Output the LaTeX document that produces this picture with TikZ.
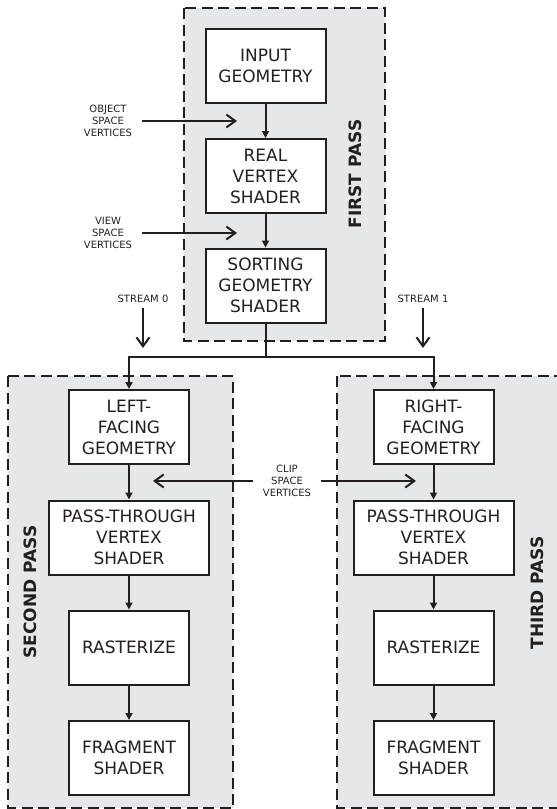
\documentclass[tikz,border=0pt]{standalone}
\usepackage{fontspec}
\setmainfont{DejaVu Sans}
\usetikzlibrary{arrows.meta, positioning}
\definecolor{ink}{HTML}{231F20}
\definecolor{passfill}{HTML}{E6E7E8}
\tikzset{
    stage/.style={draw=ink, rectangle, fill=white, line width=2pt, minimum width=120pt, minimum height=74pt, inner sep=2pt, align=center, text=ink, font=\fontsize{17}{21}\selectfont},
    widestage/.style={stage, minimum width=160pt},
    passregion/.style={draw=ink, fill=passfill, line width=2pt, dash pattern=on 11pt off 5.5pt},
    passlabel/.style={rotate=90, text=ink, font=\fontsize{17}{20}\selectfont\bfseries},
    sidelabel/.style={align=center, text=ink, inner xsep=10pt, inner ysep=0pt, font=\fontsize{10}{11.8}\selectfont},
    flow/.style={draw=ink, line width=2pt, -{Triangle[length=7pt,width=7pt]}},
    feed/.style={draw=ink, line width=2pt, -{Straight Barb[length=9pt,width=13pt]}},
    link/.style={draw=ink, line width=2pt}
}

\begin{document}
\begin{tikzpicture}[x=1pt, y=1pt]
        \useasboundingbox (0,0) rectangle (557,-809);
        \clip (0,0) rectangle (557,-809);

        % -----------------------------------------------------------------
        % PASS REGIONS
        % -----------------------------------------------------------------
        \draw[passregion] (184,-8) rectangle (385,-341);
        \draw[passregion] (8,-376) rectangle (233,-808);
        \draw[passregion] (337,-376) rectangle (580,-808);

        \node[passlabel] (firstlbl) at (355,-174) {FIRST PASS};
        \node[passlabel] (secondlbl) at (30,-592) {SECOND PASS};
        \node[passlabel] (thirdlbl) at (537,-593) {THIRD PASS};

        % -----------------------------------------------------------------
        % FIRST PASS
        % -----------------------------------------------------------------
        \node[stage] (input) at (265.5,-65.5) {INPUT\\GEOMETRY};
        \node[stage] (real) at (265.5,-176) {REAL\\VERTEX\\SHADER};
        \node[stage] (sorting) at (265.5,-285.5) {SORTING\\GEOMETRY\\SHADER};

        \draw[flow] (input) -- (real);
        \draw[flow] (real) -- (sorting);

        \node[sidelabel] (objlbl) at (108,-121) {OBJECT\\SPACE\\VERTICES};
        \coordinate (objtip) at (237,-121);
        \draw[feed] (objlbl) -- (objtip);

        \node[sidelabel] (viewlbl) at (108,-233) {VIEW\\SPACE\\VERTICES};
        \coordinate (viewtip) at (237,-233);
        \draw[feed] (viewlbl) -- (viewtip);

        % -----------------------------------------------------------------
        % STREAMS
        % -----------------------------------------------------------------
        \node[sidelabel, inner ysep=5pt] (s0lbl) at (143,-299) {STREAM 0};
        \coordinate (s0tip) at (143,-348);
        \draw[feed] (s0lbl) -- (s0tip);

        \node[sidelabel, inner ysep=5pt] (s1lbl) at (423,-299) {STREAM 1};
        \coordinate (s1tip) at (423,-348);
        \draw[feed] (s1lbl) -- (s1tip);

        % -----------------------------------------------------------------
        % SECOND PASS
        % -----------------------------------------------------------------
        \node[stage] (lface) at (129,-427) {LEFT-\\FACING\\GEOMETRY};
        \node[widestage] (lpass) at (129,-537.5) {PASS-THROUGH\\VERTEX\\SHADER};
        \node[stage] (lrast) at (129,-647.5) {RASTERIZE};
        \node[stage] (lfrag) at (129,-758) {FRAGMENT\\SHADER};

        \draw[flow] (lface) -- (lpass);
        \draw[flow] (lpass) -- (lrast);
        \draw[flow] (lrast) -- (lfrag);

        % -----------------------------------------------------------------
        % THIRD PASS
        % -----------------------------------------------------------------
        \node[stage] (rface) at (433.5,-427) {RIGHT-\\FACING\\GEOMETRY};
        \node[widestage] (rpass) at (433.5,-537.5) {PASS-THROUGH\\VERTEX\\SHADER};
        \node[stage] (rrast) at (433.5,-647.5) {RASTERIZE};
        \node[stage] (rfrag) at (433.5,-758) {FRAGMENT\\SHADER};

        \draw[flow] (rface) -- (rpass);
        \draw[flow] (rpass) -- (rrast);
        \draw[flow] (rrast) -- (rfrag);

        % -----------------------------------------------------------------
        % SPLIT AND CLIP SPACE
        % -----------------------------------------------------------------
        \coordinate (split) at (265.5,-357);
        \draw[link] (sorting) -- (split);
        \draw[flow] (split) -| (lface);
        \draw[flow] (split) -| (rface);

        \node[sidelabel] (cliplbl) at (287,-481) {CLIP\\SPACE\\VERTICES};
        \coordinate (cliptipl) at (153,-481);
        \coordinate (cliptipr) at (416,-481);
        \draw[feed] (cliplbl) -- (cliptipl);
        \draw[feed] (cliplbl) -- (cliptipr);

    \end{tikzpicture}
\end{document}
